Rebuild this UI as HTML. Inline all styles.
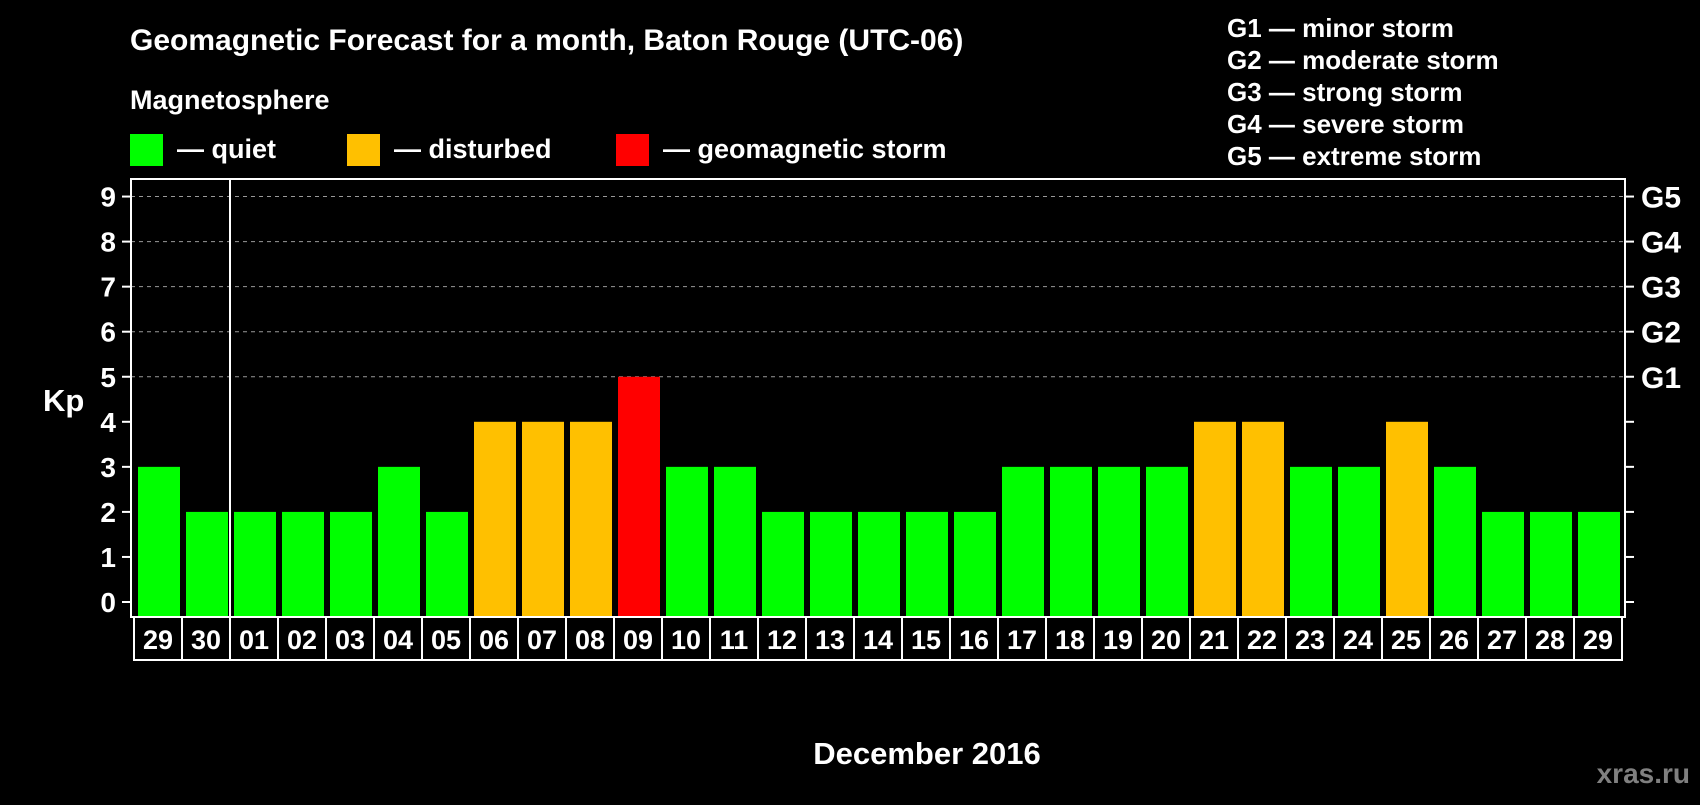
<!DOCTYPE html>
<html><head><meta charset="utf-8">
<style>
html,body{margin:0;padding:0;background:#000;}
body{width:1700px;height:800px;overflow:hidden;font-family:"Liberation Sans",sans-serif;font-weight:bold;color:#fff;}
</style></head>
<body>
<svg id="chart" width="1700" height="800" xmlns="http://www.w3.org/2000/svg" font-family="Liberation Sans, sans-serif" font-weight="bold">
<text x="130" y="50" font-size="30" fill="#fff">Geomagnetic Forecast for a month, Baton Rouge (UTC-06)</text>
<text x="130" y="109" font-size="27" fill="#fff">Magnetosphere</text>
<rect x="130" y="134" width="33" height="32" fill="#00ff00"/>
<text x="177" y="158" font-size="27" fill="#fff">— quiet</text>
<rect x="347" y="134" width="33" height="32" fill="#ffc000"/>
<text x="394" y="158" font-size="27" fill="#fff">— disturbed</text>
<rect x="616" y="134" width="33" height="32" fill="#ff0000"/>
<text x="663" y="158" font-size="27" fill="#fff">— geomagnetic storm</text>
<g font-size="26" fill="#fff">
<text x="1227" y="37">G1 — minor storm</text>
<text x="1227" y="69">G2 — moderate storm</text>
<text x="1227" y="101">G3 — strong storm</text>
<text x="1227" y="133">G4 — severe storm</text>
<text x="1227" y="165">G5 — extreme storm</text>
</g>
<text x="43" y="411" font-size="31" fill="#fff">Kp</text>
<text x="927" y="764" font-size="31" fill="#fff" text-anchor="middle">December 2016</text>
<text x="1690" y="783" font-size="28" fill="#808080" text-anchor="end">xras.ru</text>
<g id="grid"></g>
<g id="bars"></g>
<g id="axes"></g>
</svg>
<script>
const days = ["29","30","01","02","03","04","05","06","07","08","09","10","11","12","13","14","15","16","17","18","19","20","21","22","23","24","25","26","27","28","29"];
const kpValues = [3,2,2,2,2,3,2,4,4,4,5,3,3,2,2,2,2,2,3,3,3,3,4,4,3,3,4,3,2,2,2];
const yTicks = [0,1,2,3,4,5,6,7,8,9];
const gLabels = ["G1","G2","G3","G4","G5"];
const gLevels = [5,6,7,8,9];

const NS = "http://www.w3.org/2000/svg";
const pLeft = 131, pRight = 1625, pTop = 179, pBottom = 617, boxLeft = 134, pitch = 48;
const yScale = v => 602 - v * 45.05;
const xScale = i => boxLeft + i * pitch;
function mk(tag, attrs, parent){const e=document.createElementNS(NS,tag);for(const k in attrs)e.setAttribute(k,attrs[k]);parent.appendChild(e);return e;}
const grid = document.getElementById('grid'), bars = document.getElementById('bars'), axes = document.getElementById('axes');

gLevels.forEach((lv, i) => {
  const l = mk('line', {x1:pLeft, x2:pRight, y1:yScale(lv), y2:yScale(lv), stroke:'#999', 'stroke-width':1, 'stroke-dasharray':'4,4'}, grid);
  
  
  const t = mk('text', {x:1641, y:yScale(lv)+11, 'font-size':30, fill:'#fff'}, axes);
  t.textContent = gLabels[i];
  
  
});

kpValues.forEach((v, i) => {
  const col = v >= 5 ? '#ff0000' : (v >= 4 ? '#ffc000' : '#00ff00');
  const r = mk('rect', {x:xScale(i)+4, y:yScale(v), width:42, height:pBottom - yScale(v) - 1, fill:col}, bars);
  
  
  const b = mk('rect', {x:xScale(i), y:pBottom, width:pitch, height:43, fill:'none', stroke:'#fff', 'stroke-width':2}, axes);
  
  
  const t = mk('text', {x:xScale(i)+pitch/2, y:pBottom+32, 'font-size':27, fill:'#fff', 'text-anchor':'middle'}, axes);
  t.textContent = days[i];
  
  
});

const frame = mk('rect', {x:pLeft, y:pTop, width:pRight-pLeft, height:pBottom-pTop, fill:'none', stroke:'#fff', 'stroke-width':2}, axes);


const div = mk('line', {x1:xScale(2), x2:xScale(2), y1:pTop, y2:pBottom, stroke:'#fff', 'stroke-width':2}, axes);



yTicks.forEach(v => {
  const tl = mk('line', {x1:122, x2:pLeft, y1:yScale(v), y2:yScale(v), stroke:'#fff', 'stroke-width':2}, axes);
  
  
  const tr = mk('line', {x1:pRight, x2:pRight+9, y1:yScale(v), y2:yScale(v), stroke:'#fff', 'stroke-width':2}, axes);
  
  
  const t = mk('text', {x:116, y:yScale(v)+10, 'font-size':28, fill:'#fff', 'text-anchor':'end'}, axes);
  t.textContent = v;
  
  
});
</script>
</body></html>
